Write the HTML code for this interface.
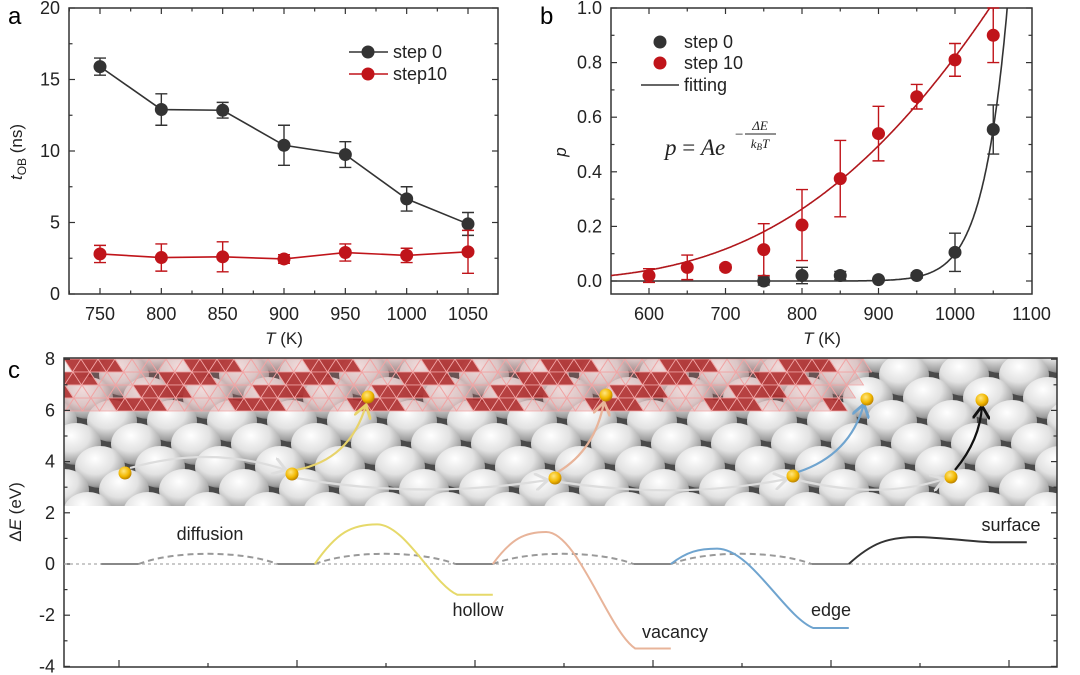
<!DOCTYPE html>
<html><head><meta charset="utf-8"><style>
html,body{margin:0;padding:0;background:#fff;}
svg{display:block;font-family:"Liberation Sans",Arial,sans-serif;}
</style></head><body>
<svg id="fig" width="1080" height="675" viewBox="0 0 1080 675" xmlns="http://www.w3.org/2000/svg">
<defs>
<radialGradient id="sph" cx="0.4" cy="0.3" r="0.75">
<stop offset="0" stop-color="#ffffff"/><stop offset="0.5" stop-color="#e2e2e2"/><stop offset="0.85" stop-color="#a0a0a0"/><stop offset="1" stop-color="#666"/>
</radialGradient>
<radialGradient id="au" cx="0.4" cy="0.35" r="0.7">
<stop offset="0" stop-color="#ffe680"/><stop offset="0.6" stop-color="#f2b800"/><stop offset="1" stop-color="#b07800"/>
</radialGradient>
<clipPath id="imgclip"><rect x="64" y="358" width="993" height="148"/></clipPath>
<marker id="ah" markerWidth="8" markerHeight="8" refX="6" refY="4" orient="auto"><path d="M0,0 L6,4 L0,8" fill="none" stroke="context-stroke" stroke-width="1.3"/></marker>
</defs>
<g id="pa"></g>
<g id="pb"></g>
<g id="pc"></g>
</svg>
<script>
// ---------- Panel a data ----------
const aTemps = [750, 800, 850, 900, 950, 1000, 1050];
const aStep0 = [15.9, 12.9, 12.85, 10.4, 9.75, 6.65, 4.9];
const aStep0Err = [0.6, 1.1, 0.55, 1.4, 0.9, 0.85, 0.8];
const aStep10 = [2.8, 2.55, 2.6, 2.45, 2.9, 2.7, 2.95];
const aStep10Err = [0.6, 0.95, 1.05, 0.3, 0.6, 0.5, 1.5];
const aXTicks = [750, 800, 850, 900, 950, 1000, 1050];
const aYTicks = [0, 5, 10, 15, 20];
// ---------- Panel b data ----------
const bTemps10 = [600, 650, 700, 750, 800, 850, 900, 950, 1000, 1050];
const bStep10 = [0.02, 0.05, 0.05, 0.115, 0.205, 0.375, 0.54, 0.675, 0.81, 0.9];
const bStep10Err = [0.025, 0.045, 0.01, 0.095, 0.13, 0.14, 0.1, 0.045, 0.06, 0.1];
const bTemps0 = [750, 800, 850, 900, 950, 1000, 1050];
const bStep0 = [0, 0.02, 0.02, 0.005, 0.02, 0.105, 0.555];
const bStep0Err = [0.015, 0.03, 0.015, 0.005, 0.01, 0.07, 0.09];
const bFitA = [77, Math.exp(33.7)];      // prefactor A: step10, step0
const bFitE = [4541, 36000];             // ΔE/kB (K): step10, step0
const bXTicks = [600, 700, 800, 900, 1000, 1100];
const bYTicks = ["0.0", "0.2", "0.4", "0.6", "0.8", "1.0"];
// ---------- Panel c data (x in tick units, y in eV) ----------
const cYTicks = [-4, -2, 0, 2, 4, 6, 8];
const cFlatX = [[-0.2, 0.22], [1.78, 2.2], [3.78, 4.2], [5.78, 6.2], [7.78, 8.2]];
const cDiffPeak = [0.4, 0.4, 0.4, 0.4];
const cPathNames = ["hollow", "vacancy", "edge", "surface"];
const cPathStart = [2.2, 4.2, 6.2, 8.2];
const cPathPeakX = [2.9, 4.8, 6.72, 8.95];
const cPathPeak = [1.55, 1.25, 0.6, 1.05];
const cPathEndX = [3.8, 5.8, 7.8, 9.8];
const cPathEnd = [-1.2, -3.3, -2.5, 0.85];
const cPathFlatEnd = [4.2, 6.2, 8.2, 10.2];
const cPathColors = ["#e6d96a", "#e8b49a", "#6fa4cf", "#333333"];

const NS = "http://www.w3.org/2000/svg";
const FS = 18;
function mk(parent, tag, attrs, text) {
  const e = document.createElementNS(NS, tag);
  for (const k in attrs) e.setAttribute(k, attrs[k]);
  if (text !== undefined) e.textContent = text;
  parent.appendChild(e);
  return e;
}

// ================= PANEL A =================
(function () {
  const g = document.getElementById('pa');
  const L = 69, R = 498, T = 8, B = 294;
  const x = v => 100 + (v - 750) * (468 - 100) / 300;
  const y = v => B - v * (B - T) / 20;
  const lbl = mk(g, 'text', {x: 8, y: 24, 'font-size': 24}, 'a');
  
  
  const box = mk(g, 'rect', {x: L, y: T, width: R - L, height: B - T, fill: 'none', stroke: '#333', 'stroke-width': 1.5});
  
  
  for (let v = 725; v <= 1075; v += 25) {
    const major = aXTicks.includes(v);
    const len = major ? 6 : 3.5;
    if (x(v) <= L || x(v) >= R) continue;
    mk(g, 'line', {x1: x(v), x2: x(v), y1: B, y2: B - len, stroke: '#333', 'stroke-width': 1.2});
    mk(g, 'line', {x1: x(v), x2: x(v), y1: T, y2: T + len, stroke: '#333', 'stroke-width': 1.2});
  }
  aXTicks.forEach(v => {
    const t = mk(g, 'text', {x: x(v), y: 320, 'font-size': FS, 'text-anchor': 'middle', fill: '#222'}, v);
    
    
  });
  for (let v = 0; v <= 20; v += 2.5) {
    const major = aYTicks.includes(v);
    const len = major ? 6 : 3.5;
    mk(g, 'line', {x1: L, x2: L + len, y1: y(v), y2: y(v), stroke: '#333', 'stroke-width': 1.2});
    mk(g, 'line', {x1: R, x2: R - len, y1: y(v), y2: y(v), stroke: '#333', 'stroke-width': 1.2});
  }
  aYTicks.forEach(v => {
    const t = mk(g, 'text', {x: 60, y: y(v) + 6, 'font-size': FS, 'text-anchor': 'end', fill: '#222'}, v);
    
    
  });
  const xt = mk(g, 'text', {x: 284, y: 344, 'font-size': 17, 'text-anchor': 'middle', fill: '#222'});
  xt.innerHTML = '<tspan font-style="italic">T</tspan> (K)';
  
  
  const yt = mk(g, 'text', {transform: 'translate(22,152) rotate(-90)', 'font-size': 17, 'text-anchor': 'middle', fill: '#222'});
  yt.innerHTML = '<tspan font-style="italic">t</tspan><tspan font-size="12" dy="4">OB</tspan><tspan dy="-4"> (ns)</tspan>';
  
  
  function series(vals, errs, color, name) {
    const sg = mk(g, 'g', {});
    
    
    mk(sg, 'polyline', {points: aTemps.map((t, i) => x(t) + ',' + y(vals[i])).join(' '), fill: 'none', stroke: color, 'stroke-width': 1.6});
    aTemps.forEach((t, i) => {
      const cx = x(t), lo = y(vals[i] - errs[i]), hi = y(vals[i] + errs[i]);
      mk(sg, 'path', {d: `M${cx},${lo}V${hi}M${cx - 6},${lo}H${cx + 6}M${cx - 6},${hi}H${cx + 6}`, stroke: color, 'stroke-width': 1.4, fill: 'none'});
      const c = mk(sg, 'circle', {cx: cx, cy: y(vals[i]), r: 6.5, fill: color});
      
      
    });
  }
  series(aStep0, aStep0Err, '#333333', 'series-step0-a');
  series(aStep10, aStep10Err, '#c0141a', 'series-step10-a');
  const lg = mk(g, 'g', {});
  
  
  [['step 0', '#333333', 52], ['step10', '#c0141a', 74]].forEach(([txt, col, yy]) => {
    mk(lg, 'line', {x1: 349, x2: 388, y1: yy, y2: yy, stroke: col, 'stroke-width': 1.6});
    mk(lg, 'circle', {cx: 368, cy: yy, r: 6.5, fill: col});
    const t = mk(lg, 'text', {x: 393, y: yy + 6, 'font-size': FS, fill: '#222'}, txt);
    
    
  });
})();

// ================= PANEL B =================
(function () {
  const g = document.getElementById('pb');
  const L = 611, R = 1032, T = 8, B = 294;
  const x = v => 649 + (v - 600) * (1031.5 - 649) / 500;
  const y = v => 281 - v * (281 - 8) / 1.0;
  const lbl = mk(g, 'text', {x: 540, y: 24, 'font-size': 24}, 'b');
  
  
  const box = mk(g, 'rect', {x: L, y: T, width: R - L, height: B - T, fill: 'none', stroke: '#333', 'stroke-width': 1.5});
  
  
  for (let v = 550; v <= 1100; v += 50) {
    if (x(v) <= L + 1 || x(v) >= R - 1) continue;
    const len = v % 100 === 0 ? 6 : 3.5;
    mk(g, 'line', {x1: x(v), x2: x(v), y1: B, y2: B - len, stroke: '#333', 'stroke-width': 1.2});
    mk(g, 'line', {x1: x(v), x2: x(v), y1: T, y2: T + len, stroke: '#333', 'stroke-width': 1.2});
  }
  bXTicks.forEach(v => {
    const t = mk(g, 'text', {x: x(v), y: 320, 'font-size': FS, 'text-anchor': 'middle', fill: '#222'}, v);
    
    
  });
  for (let i = 0; i <= 10; i++) {
    const v = i / 10, len = i % 2 === 0 ? 6 : 3.5;
    mk(g, 'line', {x1: L, x2: L + len, y1: y(v), y2: y(v), stroke: '#333', 'stroke-width': 1.2});
    mk(g, 'line', {x1: R, x2: R - len, y1: y(v), y2: y(v), stroke: '#333', 'stroke-width': 1.2});
  }
  bYTicks.forEach(s => {
    const t = mk(g, 'text', {x: 602, y: y(parseFloat(s)) + 6, 'font-size': FS, 'text-anchor': 'end', fill: '#222'}, s);
    
    
  });
  const xt = mk(g, 'text', {x: 822, y: 344, 'font-size': 17, 'text-anchor': 'middle', fill: '#222'});
  xt.innerHTML = '<tspan font-style="italic">T</tspan> (K)';
  
  
  const yt = mk(g, 'text', {transform: 'translate(566,152) rotate(-90)', 'font-size': 17, 'font-style': 'italic', 'text-anchor': 'middle', fill: '#222'}, 'p');
  
  
  const cp = mk(g, 'clipPath', {id: 'bclip'});
  mk(cp, 'rect', {x: L, y: T, width: R - L, height: B - T});
  [[0, '#b0171c', 'fit-step10'], [1, '#333333', 'fit-step0']].forEach(([k, col, nm]) => {
    const pts = [];
    for (let t = 550; t <= 1100; t += 1) {
      const p = bFitA[k] * Math.exp(-bFitE[k] / t);
      if (p > 1.2) break;
      pts.push(x(t).toFixed(1) + ',' + y(p).toFixed(1));
    }
    const pl = mk(g, 'polyline', {points: pts.join(' '), fill: 'none', stroke: col, 'stroke-width': 1.6, 'clip-path': 'url(#bclip)'});
    
    
  });
  function pts(temps, vals, errs, color, name) {
    const sg = mk(g, 'g', {});
    
    
    temps.forEach((t, i) => {
      const cx = x(t), lo = y(vals[i] - errs[i]), hi = y(vals[i] + errs[i]);
      mk(sg, 'path', {d: `M${cx},${lo}V${hi}M${cx - 6},${lo}H${cx + 6}M${cx - 6},${hi}H${cx + 6}`, stroke: color, 'stroke-width': 1.4, fill: 'none'});
      const c = mk(sg, 'circle', {cx: cx, cy: y(vals[i]), r: 6.5, fill: color});
      
      
    });
  }
  pts(bTemps0, bStep0, bStep0Err, '#333333', 'series-step0-b');
  pts(bTemps10, bStep10, bStep10Err, '#c0141a', 'series-step10-b');
  const lg = mk(g, 'g', {});
  
  
  mk(lg, 'circle', {cx: 660, cy: 42, r: 6.5, fill: '#333'});
  mk(lg, 'circle', {cx: 660, cy: 63, r: 6.5, fill: '#c0141a'});
  mk(lg, 'line', {x1: 641, x2: 679, y1: 85, y2: 85, stroke: '#333', 'stroke-width': 1.6});
  [['step 0', 48], ['step 10', 69], ['fitting', 91]].forEach(([s, yy]) => {
    const t = mk(lg, 'text', {x: 684, y: yy, 'font-size': FS, fill: '#222'}, s);
    
    
  });
  const f = mk(g, 'g', {'font-family': '"Liberation Serif",serif', fill: '#222'});
  
  
  mk(f, 'text', {x: 665, y: 155, 'font-size': 23}).innerHTML = '<tspan font-style="italic">p</tspan> = <tspan font-style="italic">Ae</tspan>';
  mk(f, 'text', {x: 735, y: 139, 'font-size': 15}, '−');
  mk(f, 'text', {x: 760, y: 130, 'font-size': 13, 'font-style': 'italic', 'text-anchor': 'middle'}, 'ΔE');
  mk(f, 'line', {x1: 745, x2: 776, y1: 134, y2: 134, stroke: '#222', 'stroke-width': 0.9});
  mk(f, 'text', {x: 760, y: 148, 'font-size': 13, 'font-style': 'italic', 'text-anchor': 'middle'}).innerHTML = 'k<tspan font-size="9" dy="2">B</tspan><tspan dy="-2">T</tspan>';
})();

// ================= PANEL C =================
(function () {
  const g = document.getElementById('pc');
  const L = 64, R = 1057, T = 358, B = 667;
  const x = k => 119 + k * 89;
  const y = v => 564 - v * 25.6;
  const lbl = mk(g, 'text', {x: 8, y: 378, 'font-size': 24}, 'c');
  
  
  const img = mk(g, 'g', {'clip-path': 'url(#imgclip)'});
  
  
  mk(img, 'rect', {x: L, y: T, width: R - L, height: 148, fill: '#4a4a4a'});
  for (let r = 0; r < 8; r++) {
    const yy = 352 + r * 23;
    const off = (r % 2) * 30 - r * 6;
    for (let cx = 40 + off; cx < 1100; cx += 60) {
      mk(img, 'ellipse', {cx: cx, cy: yy, rx: 25, ry: 21, fill: 'url(#sph)'});
    }
  }
  const mesh = mk(img, 'g', {});
  const cw = 17, ch = 13;
  for (let row = 0; row < 4; row++) {
    const y0 = 359 + row * ch;
    for (let col = 0; col < 50; col++) {
      const x0 = 64 + col * cw - row * 8;
      if (x0 > 850 - row * 4) continue;
      const red = ((col + row) % 7) < 3;
      const fill = red ? 'rgba(175,45,45,0.9)' : 'rgba(200,110,110,0.25)';
      mk(mesh, 'path', {d: `M${x0},${y0}L${x0 + cw},${y0}L${x0 + cw / 2},${y0 + ch}Z`, fill: fill, stroke: '#f2a5a5', 'stroke-width': 0.8});
      mk(mesh, 'path', {d: `M${x0 + cw},${y0}L${x0 + cw * 1.5},${y0 + ch}L${x0 + cw / 2},${y0 + ch}Z`, fill: fill, stroke: '#f2a5a5', 'stroke-width': 0.8});
    }
  }
  const arr = [
    ['M130,468 Q210,445 286,470', '#ddd'], ['M296,478 Q420,500 548,480', '#ddd'],
    ['M560,482 Q680,500 787,479', '#ddd'], ['M798,480 Q880,500 944,479', '#ddd'],
    ['M296,470 Q350,460 366,405', '#e8d36a'], ['M558,472 Q595,450 604,402', '#e8b49a'],
    ['M798,472 Q850,455 864,404', '#6fa4cf'], ['M955,470 Q980,440 982,406', '#111']
  ];
  arr.forEach(([d, c]) => {
    const p = mk(img, 'path', {d: d, fill: 'none', stroke: c, 'stroke-width': 2.2, 'marker-end': 'url(#ah)'});
    
    
  });
  [[125, 473], [292, 474], [555, 478], [793, 476], [951, 477], [368, 397], [606, 395], [867, 399], [982, 400]].forEach(([ax, ay]) => {
    const c = mk(img, 'circle', {cx: ax, cy: ay, r: 6.5, fill: 'url(#au)'});
    
    
  });
  const box = mk(g, 'rect', {x: L, y: T, width: R - L, height: B - T, fill: 'none', stroke: '#333', 'stroke-width': 1.5});
  
  
  for (let v = -4; v <= 8; v += 1) {
    const len = v % 2 === 0 ? 6 : 3.5;
    mk(g, 'line', {x1: L, x2: L + len, y1: y(v), y2: y(v), stroke: '#333', 'stroke-width': 1.2});
    mk(g, 'line', {x1: R, x2: R - len, y1: y(v), y2: y(v), stroke: '#333', 'stroke-width': 1.2});
  }
  cYTicks.forEach(v => {
    const t = mk(g, 'text', {x: 55, y: y(v) + 6, 'font-size': FS, 'text-anchor': 'end', fill: '#222'}, v);
    
    
  });
  for (let k = 0; k <= 10; k++) {
    const len = k % 2 === 0 ? 7 : 4;
    mk(g, 'line', {x1: x(k), x2: x(k), y1: B, y2: B - len, stroke: '#333', 'stroke-width': 1.2});
  }
  const yt = mk(g, 'text', {transform: 'translate(21,512) rotate(-90)', 'font-size': 17, 'text-anchor': 'middle', fill: '#222'});
  yt.innerHTML = 'Δ<tspan font-style="italic">E</tspan> (eV)';
  
  
  const zl = mk(g, 'line', {x1: L, x2: R, y1: y(0), y2: y(0), stroke: '#aaa', 'stroke-width': 1.2, 'stroke-dasharray': '3,3'});
  
  
  cFlatX.forEach(([a, b]) => {
    mk(g, 'line', {x1: x(a), x2: x(b), y1: y(0), y2: y(0), stroke: '#888', 'stroke-width': 2});
  });
  cDiffPeak.forEach((pk, i) => {
    const a = cFlatX[i][1], b = cFlatX[i + 1][0];
    const p = mk(g, 'path', {d: `M${x(a)},${y(0)} C${x(a + 0.4)},${y(pk * 1.33)} ${x(b - 0.4)},${y(pk * 1.33)} ${x(b)},${y(0)}`, fill: 'none', stroke: '#999', 'stroke-width': 2, 'stroke-dasharray': '6,4'});
    
    
  });
  cPathNames.forEach((nm, i) => {
    const s = cPathStart[i], px = cPathPeakX[i], pk = cPathPeak[i], e = cPathEndX[i], ev = cPathEnd[i], fe = cPathFlatEnd[i];
    const d = `M${x(s)},${y(0)} C${x(s + (px - s) * 0.35)},${y(pk * 0.8)} ${x(px - (px - s) * 0.4)},${y(pk)} ${x(px)},${y(pk)}` +
      ` C${x(px + (e - px) * 0.35)},${y(pk)} ${x(e - (e - px) * 0.3)},${y(ev + (pk - ev) * 0.15)} ${x(e)},${y(ev)} L${x(fe)},${y(ev)}`;
    const p = mk(g, 'path', {d: d, fill: 'none', stroke: cPathColors[i], 'stroke-width': 2});
    
    
  });
  [['diffusion', 210, 540], ['hollow', 478, 616], ['vacancy', 675, 638], ['edge', 831, 616], ['surface', 1011, 531]].forEach(([s, lx, ly]) => {
    const t = mk(g, 'text', {x: lx, y: ly, 'font-size': 18, 'text-anchor': 'middle', fill: '#222'}, s);
    
    
  });
})();
</script>
</body></html>
